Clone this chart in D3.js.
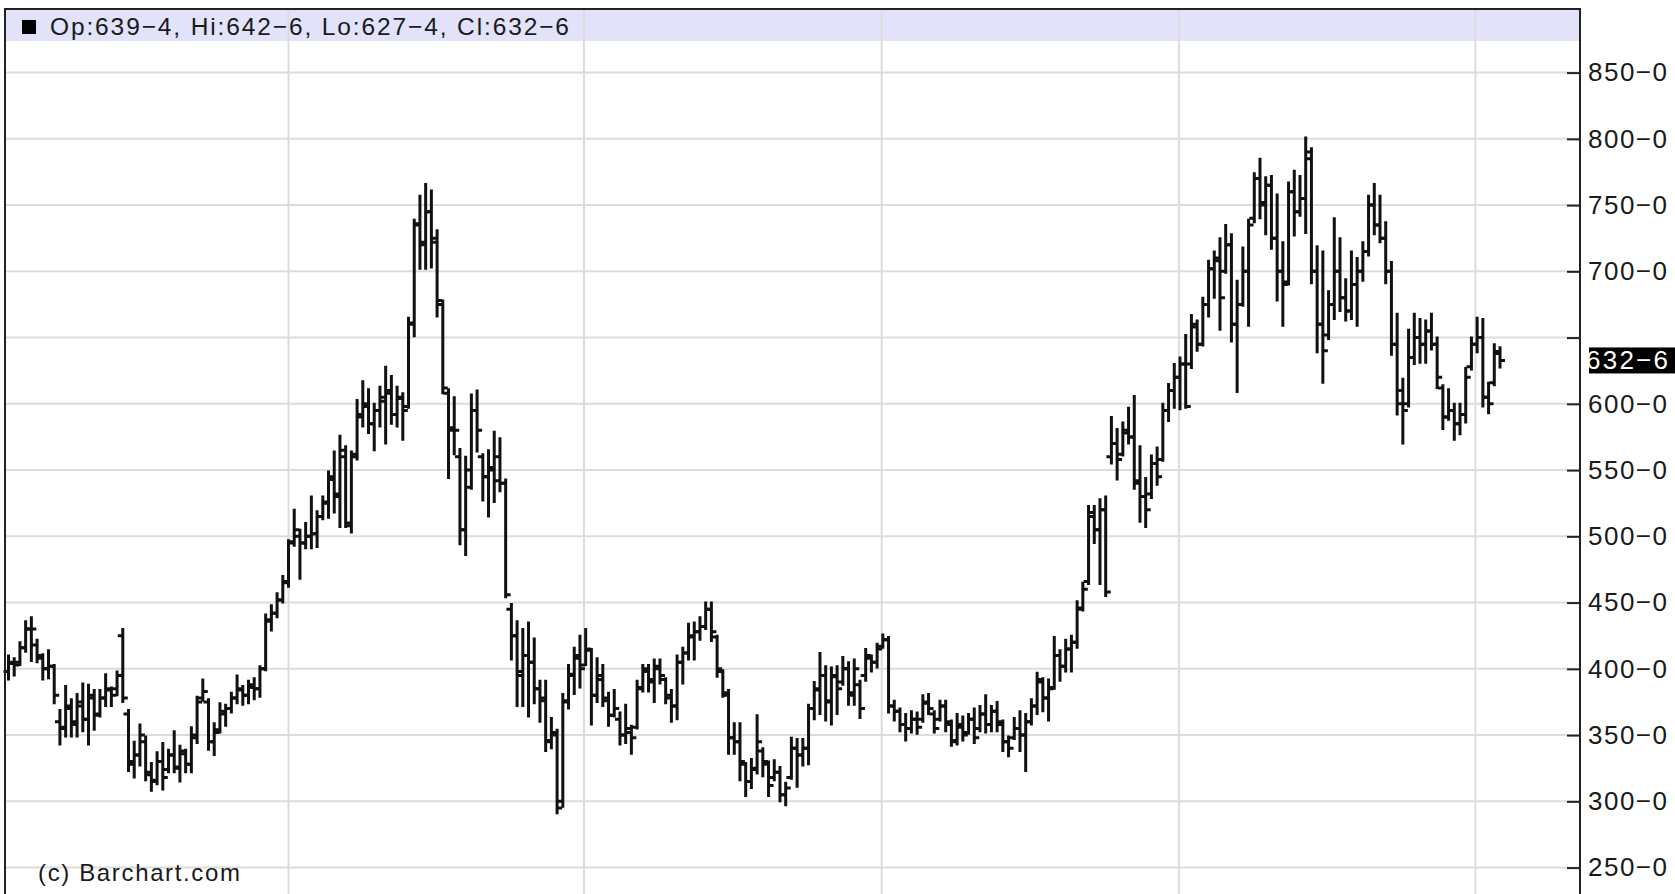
<!DOCTYPE html>
<html>
<head>
<meta charset="utf-8">
<script src="https://cdn.jsdelivr.net/npm/d3@7"></script>
<style>
  body { margin: 0; background: #fff; }
  svg { display: block; }
  text { font-family: "Liberation Sans", Arial, sans-serif; fill: #1a1a1a; }
</style>
</head>
<body>
<svg id="chart" width="1675" height="894"></svg>
<script>

// weekly bars, oldest -> newest (prices in cents, eighths shown after the dash)
const opens = [
  398,404,405,416,430,418,408,400,402,360, 356,370,360,372,362,378,366,378,384,385,
  425,366,330,335,345,322,316,330,324,335, 326,336,328,348,378,375,345,354,366,370,
  378,384,380,386,385,400,436,442,452,466, 496,500,495,500,502,515,525,543,532,560,
  508,562,592,598,585,595,602,608,592,604, 598,661,736,722,745,722,675,608,582,560,
  505,537,595,560,545,552,542,540,445,425, 398,410,405,385,376,346,350,300,376,396,
  408,403,414,380,392,376,365,362,350,352, 356,386,398,392,400,392,378,372,405,412,
  424,428,432,445,424,398,380,348,345,328, 315,324,338,328,318,322,305,318,340,335,
  340,370,384,395,376,394,390,400,382,388, 395,408,405,417,422,372,368,358,355,362,
  362,374,366,362,372,358,346,356,352,362, 355,366,358,368,358,345,348,355,350,360,
  372,390,378,386,410,402,415,420,446,466, 515,505,520,560,570,562,578,575,542,530,
  532,555,558,595,610,620,630,630,658,645, 675,702,708,700,720,660,675,700,740,770,
  752,765,725,700,692,760,745,755,790,700, 660,652,675,700,680,670,690,700,715,750,
  735,725,700,645,600,600,635,650,645,655, 645,612,590,595,585,592,628,645,650,605,
  616,639.5
]
const highs = [
  410,408,420,436,439,422,411,414,403,369, 387,377,381,389,388,384,384,396,386,398,
  430,369,345,358,349,329,337,344,339,353, 342,339,356,379,392,377,359,374,373,382,
  395,387,391,393,402,441,448,457,470,497, 520,505,510,530,519,530,549,564,576,568,
  564,603,617,611,600,613,628,621,613,608, 665,739,757,766,761,731,678,611,605,566,
  560,607,610,562,565,579,574,543,449,436, 430,435,423,391,391,363,354,381,403,416,
  425,430,415,408,403,382,384,367,373,357, 391,403,403,407,407,393,384,410,416,434,
  435,439,450,450,425,399,384,359,359,329, 332,365,340,330,331,326,314,348,347,347,
  373,390,412,402,401,402,409,405,407,391, 415,410,419,426,424,376,370,366,368,367,
  380,381,368,376,376,361,366,364,366,370, 372,380,372,375,361,349,363,368,366,377,
  397,393,392,424,414,422,425,451,465,523, 523,528,530,590,581,586,597,606,568,544,
  561,567,600,615,630,635,652,667,663,680, 708,715,725,735,728,693,718,739,774,785,
  771,772,758,722,767,776,772,801,793,719, 715,685,740,725,694,715,710,722,757,766,
  757,737,707,668,619,656,668,664,663,668, 650,614,611,600,600,627,650,665,664,616,
  645,642.75
]
const lows = [
  392,395,403,413,406,405,392,393,374,343, 349,349,349,353,343,354,364,372,372,380,
  375,323,318,327,316,308,313,309,322,322, 315,322,322,344,376,339,335,352,357,367,
  374,373,374,377,379,399,429,439,450,462, 493,468,491,491,492,513,514,518,507,507,
  503,558,583,578,565,583,570,585,583,573, 597,651,702,702,703,666,608,544,562,494,
  486,536,564,527,515,526,534,454,407,372, 372,364,374,360,338,340,291,296,370,381,
  386,403,358,375,372,357,364,343,344,336, 355,383,383,375,389,374,360,362,389,407,
  407,422,430,421,394,379,336,336,316,304, 310,321,319,304,316,300,297,317,311,327,
  328,362,366,361,358,366,388,373,373,363, 391,398,401,416,367,361,353,346,352,351,
  360,366,352,361,353,342,343,346,351,344, 353,352,353,353,338,334,347,338,323,358,
  366,368,361,385,391,398,398,416,444,464, 495,464,455,555,543,561,570,536,511,507,
  529,539,557,587,597,596,597,627,640,644, 666,680,656,699,647,609,674,659,737,740,
  728,717,678,659,690,727,742,729,691,639, 616,649,664,670,663,664,659,693,712,728,
  722,691,637,592,570,598,630,631,631,641, 612,581,588,573,577,586,626,639,598,593,
  614,627.5
]
const closes = [
  405,403,416,430,430,410,400,402,380,355, 372,358,375,362,380,365,378,385,380,395,
  378,328,335,350,320,315,330,318,335,325, 338,328,350,375,383,345,352,368,370,378,
  385,380,388,385,400,437,442,452,465,495, 505,495,500,502,515,526,545,530,565,510,
  560,590,600,585,595,605,610,592,605,595, 660,735,720,745,725,678,612,580,580,505,
  550,595,580,545,550,560,540,456,425,395, 410,405,385,378,345,352,295,375,395,410,
  400,415,380,395,378,365,370,350,355,348, 385,400,390,402,395,380,372,405,412,425,
  428,432,445,428,400,382,348,345,330,315, 325,345,330,312,322,305,310,340,335,340,
  370,385,395,375,395,385,400,380,400,370, 410,405,415,422,372,368,358,355,362,356,
  375,370,355,372,360,345,358,350,362,348, 366,358,368,360,345,340,355,350,360,372,
  392,378,385,410,402,415,420,445,460,518, 505,520,458,570,558,580,575,540,530,520,
  555,545,595,610,620,630,598,660,645,675, 702,710,680,720,660,675,700,735,770,750,
  765,725,700,690,760,745,755,785,700,660, 640,675,700,680,670,690,700,715,750,735,
  725,700,645,610,595,635,650,645,655,645, 620,590,595,585,592,620,645,650,605,600,
  638,632.75
]

// price axis ticks and the bar index where each new year starts (vertical grid)
const priceTicks = [250, 300, 350, 400, 450, 500, 550, 600, 650, 700, 750, 800, 850]
const yearBreaks = [49, 100.7, 152.8, 204.8, 256.7]

const W = 1675, H = 894
const frameL = 5, frameT = 9, axisX = 1580

const svg = d3.select('#chart')

const x = d3.scaleLinear().domain([0, opens.length - 1]).range([8.5, 1500])
const y = d3.scaleLinear().domain([250, 850]).range([867.6, 72.6])

// 632.75 -> "632−6"
function fmt(v) {
    const whole = Math.floor(v + 1e-9)
    return whole + '\u2212' + Math.round((v - whole) * 8)
}

const bars = opens.map((o, i) => ({ i: i, o: o, h: highs[i], l: lows[i], c: closes[i] }))
const last = bars[bars.length - 1]

// header strip
svg.append('rect')
    .attr('x', frameL + 1).attr('y', frameT + 1)
    .attr('width', axisX - frameL - 2).attr('height', 31)
    .attr('fill', '#e2e2fa')

// grid
svg.append('g').selectAll('line')
    .data(priceTicks)
    .enter().append('line')
    .attr('x1', frameL).attr('x2', axisX)
    .attr('y1', d => y(d)).attr('y2', d => y(d))
    .attr('stroke', '#dcdcdc').attr('stroke-width', 2)

svg.append('g').selectAll('line')
    .data(yearBreaks)
    .enter().append('line')
    .attr('x1', d => x(d)).attr('x2', d => x(d))
    .attr('y1', frameT).attr('y2', H)
    .attr('stroke', '#dcdcdc').attr('stroke-width', 2)

// header text
svg.append('rect')
    .attr('x', 22).attr('y', 20).attr('width', 14).attr('height', 14)
    .attr('fill', '#000')
svg.append('text')
    .attr('x', 50).attr('y', 35)
    .attr('font-size', 24.5)
    .attr('textLength', 519).attr('lengthAdjust', 'spacing')
    .text(`Op:${fmt(last.o)}, Hi:${fmt(last.h)}, Lo:${fmt(last.l)}, Cl:${fmt(last.c)}`)

// OHLC bars
const barG = svg.append('g')
    .attr('stroke', '#111')
    .attr('stroke-width', 3)
    .attr('fill', 'none')

barG.selectAll('path')
    .data(bars)
    .enter().append('path')
    .attr('d', d => {
        const cx = x(d.i)
        return `M${cx},${y(d.h) - 1}V${y(d.l) + 1}`
            + `M${cx - 5},${y(d.o)}H${cx}`
            + `M${cx},${y(d.c)}H${cx + 5}`
    })

// frame
svg.append('path')
    .attr('d', `M${frameL},${H}V${frameT}H${axisX}V${H}`)
    .attr('fill', 'none')
    .attr('stroke', '#222')
    .attr('stroke-width', 2)

// right price axis, ticks pointing into the plot
const lastY = y(last.c)
const yAxis = d3.axisRight(y)
    .tickValues(priceTicks)
    .tickSizeInner(-13)
    .tickSizeOuter(0)
    .tickPadding(8)
    .tickFormat(d => Math.abs(y(d) - lastY) < 26 ? '' : fmt(d))

const axG = svg.append('g')
    .attr('transform', `translate(${axisX},0)`)
    .call(yAxis)
axG.select('.domain').remove()
axG.selectAll('.tick line').attr('stroke', '#222').attr('stroke-width', 2)
axG.selectAll('.tick text')
    .attr('font-family', '"Liberation Sans", Arial, sans-serif')
    .attr('font-size', 26)
    .attr('fill', '#1a1a1a')
    .filter(function () { return this.textContent !== '' })
    .attr('textLength', 79).attr('lengthAdjust', 'spacing')

// last price marker
svg.append('clipPath').attr('id', 'lastclip')
    .append('rect')
    .attr('x', 1589).attr('y', lastY - 13).attr('width', 100).attr('height', 26)
svg.append('rect')
    .attr('x', 1589).attr('y', lastY - 13).attr('width', 100).attr('height', 26)
    .attr('fill', '#000')
svg.append('text')
    .attr('clip-path', 'url(#lastclip)')
    .attr('x', 1586).attr('y', lastY + 9)
    .attr('font-size', 26)
    .attr('textLength', 82).attr('lengthAdjust', 'spacing')
    .style('fill', '#fff')
    .text(fmt(last.c))

// copyright
svg.append('text')
    .attr('x', 38).attr('y', 881)
    .attr('font-size', 24)
    .attr('textLength', 202).attr('lengthAdjust', 'spacing')
    .text('(c) Barchart.com')

</script>
</body>
</html>
